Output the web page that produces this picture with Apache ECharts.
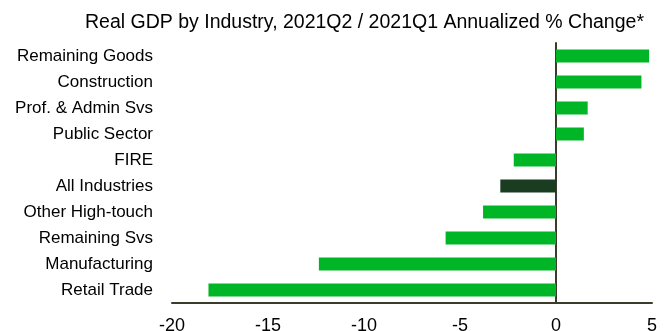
<!DOCTYPE html>
<html><head><meta charset="utf-8">
<script src="https://cdn.jsdelivr.net/npm/echarts@6/dist/echarts.min.js"></script>
<style>html,body{margin:0;padding:0;background:#fff}#c{width:670px;height:331px}</style>
</head><body><div id="c"></div>
<script>
const categories = ["Retail Trade","Manufacturing","Remaining Svs","Other High-touch","All Industries","FIRE","Public Sector","Prof. & Admin Svs","Construction","Remaining Goods"];
const values = [-18.1, -12.35, -5.75, -3.8, -2.9, -2.2, 1.45, 1.65, 4.45, 4.85];
const highlight = "All Industries";
const xTicks = {min: -20, max: 5, interval: 5};
const titleText = "Real GDP by Industry, 2021Q2 / 2021Q1 Annualized % Change*";

const chart = echarts.init(document.getElementById('c'), null, {renderer: 'canvas'});
chart.setOption({
  animation: false,
  title: {text: titleText, left: 80, top: 8, textStyle: {fontFamily: 'Liberation Sans', fontSize: 19.5, fontWeight: 'normal', color: '#000'}},
  grid: {left: 172, right: 18, top: 43, bottom: 28, containLabel: false, outerBoundsMode: 'none'},
  xAxis: {type: 'value', min: xTicks.min, max: xTicks.max, interval: xTicks.interval,
    splitLine: {show: false},
    axisLine: {show: true, onZero: false, lineStyle: {color: '#3b3b2b', width: 2}},
    axisTick: {show: false},
    axisLabel: {color: '#000', fontFamily: 'Liberation Sans', fontSize: 18, margin: 14}},
  yAxis: {type: 'category', data: categories,
    axisLine: {show: true, onZero: true, lineStyle: {color: '#3b3b2b', width: 2}},
    axisTick: {show: false},
    axisLabel: {color: '#000', fontFamily: 'Liberation Sans', fontSize: 17, margin: 19}},
  series: [{type: 'bar', barWidth: 13,
    data: values.map((v, i) => ({value: v, itemStyle: {color: categories[i] === highlight ? '#1a3d22' : '#00b526'}}))}]
});
</script></body></html>
